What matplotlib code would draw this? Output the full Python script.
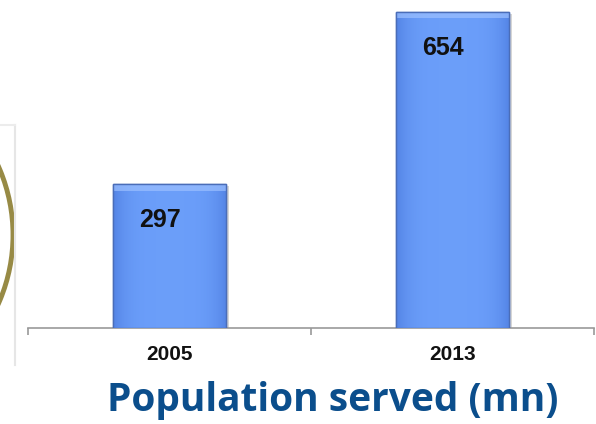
import numpy as np
import matplotlib.pyplot as plt
from matplotlib.patches import Arc, Rectangle
from matplotlib.transforms import Affine2D

years = ["2005", "2013"]
population = [297, 654]

W, H = 596, 424
fig = plt.figure(figsize=(W / 100, H / 100), dpi=100)
fig.patch.set_facecolor("white")

# axes: baseline at y=328 px, categories centred at 170 and 453
ax = fig.add_axes([28 / W, (H - 328) / H, 566 / W, 328 / H])
ax.set_xlim(-0.5, 1.5)
ax.set_ylim(0, 678)
x = np.arange(len(years))

# gradient fill for the bars
grad = np.linspace(0, 1, 64)
gx = np.abs(grad - 0.5) * 2
img = np.zeros((1, 64, 4))
base = np.array([0.42, 0.62, 0.98])
dark = np.array([0.33, 0.52, 0.90])
for i, g in enumerate(gx):
    c = base * (1 - g ** 4) + dark * g ** 4
    img[0, i, :3] = c
    img[0, i, 3] = 1

bars = ax.bar(x, population, width=0.4, color="#6a9cf8", edgecolor="#4a6db8",
              linewidth=1.0, zorder=3)
for b in bars:
    x0, y0 = b.get_x(), b.get_y()
    bw, bh = b.get_width(), b.get_height()
    # shadow
    sh = Rectangle((x0 + 0.012, y0), bw, bh - 4, facecolor="#bbbbbb", edgecolor="none",
                   alpha=0.6, zorder=2)
    ax.add_patch(sh)
    im = ax.imshow(img, extent=[x0, x0 + bw, y0, y0 + bh], aspect="auto", zorder=3.5)
    im.set_clip_path(b)
    # lighter bevel strip at the top
    ax.add_patch(Rectangle((x0, y0 + bh - 14), bw, 14, facecolor="#9cc0ff",
                           edgecolor="none", alpha=0.7, zorder=3.6))
    ax.add_patch(Rectangle((x0, y0), bw, bh, facecolor="none", edgecolor="#4a6db8",
                           linewidth=1.0, zorder=3.8))
    ax.annotate(f"{int(bh)}", (x0 + bw / 2, y0 + bh), xytext=(-7, -26),
                textcoords="offset points", ha="center", va="center",
                fontsize=18, fontweight="bold", family="Liberation Sans",
                color="#111111", zorder=5)

for s in ["top", "right", "left"]:
    ax.spines[s].set_visible(False)
ax.spines["bottom"].set_color("#999999")
ax.spines["bottom"].set_linewidth(1.2)
ax.set_yticks([])
ax.set_xticks(x)
ax.set_xticklabels(years, fontsize=15, fontweight="bold", family="Liberation Sans",
                   color="#111111")
ax.tick_params(axis="x", which="major", length=0, pad=12)
ax.set_xticks([-0.5, 0.5, 1.5], minor=True)
ax.tick_params(axis="x", which="minor", length=5, color="#999999", width=1.2)
ax.patch.set_alpha(0)

fig.text(333 / W, (H - 400) / H, "Population served (mn)", ha="center", va="center",
         fontsize=28, fontweight="bold", family="Open Sans", color="#0b4e8c")

# cropped decoration on the left edge
pix = Affine2D().scale(1.0, -1.0).translate(0, H)
fig.add_artist(Arc((-156, 235), 2 * 169, 2 * 169, transform=pix, color="#978a45",
                   linewidth=3.5, zorder=1))
fig.add_artist(plt.Line2D([15, 15], [125, 365], transform=pix, color="#e6e6e6",
                          linewidth=1.5))
fig.add_artist(plt.Line2D([0, 15], [125, 125], transform=pix, color="#ececec",
                          linewidth=1.5))

fig.savefig("out.png", dpi=100)
